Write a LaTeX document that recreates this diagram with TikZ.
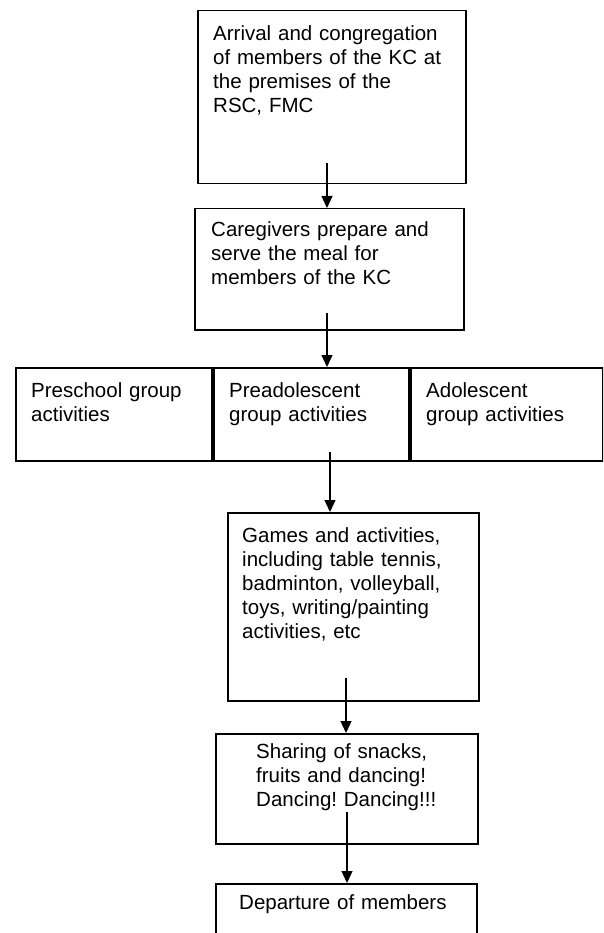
\documentclass[tikz,border=0pt]{standalone}
\usepackage{fontspec}
\setmainfont{Liberation Sans}
\usetikzlibrary{arrows.meta}
\frenchspacing
\begin{document}
\begin{tikzpicture}[x=1pt,y=-1pt]
\tikzset{
  flowbox/.style={draw=black, line width=1.5pt, inner sep=0pt, anchor=north west},
  boxtext/.style={anchor=north west, inner sep=0pt, text width=#1, align=left,
                  font=\fontsize{20.5}{24}\selectfont\frenchspacing},
  flowarrow/.style={line width=1.3pt, -{Triangle[length=12pt,width=11pt]}},
}
\useasboundingbox (0,0) rectangle (603,933);
\clip (0,0) rectangle (603,933);
\fill[white] (0,0) rectangle (603,933);

% boxes
\node[flowbox, minimum width=268pt, minimum height=173pt] (b1) at (197,10) {};
\node[flowbox, minimum width=269pt, minimum height=121pt] (b2) at (194,208) {};
\node[flowbox, minimum width=196pt, minimum height=93pt] (bA) at (15,367) {};
\node[flowbox, minimum width=195pt, minimum height=93pt] (bB) at (213,367) {};
\node[flowbox, minimum width=192pt, minimum height=93pt] (bC) at (410,367) {};
\node[flowbox, minimum width=251pt, minimum height=188pt] (b4) at (227,512) {};
\node[flowbox, minimum width=262pt, minimum height=110pt] (b5) at (215,733) {};
\node[flowbox, minimum width=261pt, minimum height=90pt] (b6) at (215,883) {};

% texts
\node[boxtext=250pt] (t1) at (213,25) {Arrival and congregation\\of members of the KC at\\the premises of the\\RSC, FMC};
\node[boxtext=250pt] (t2) at (211,221) {Caregivers prepare and\\serve the meal for\\members of the KC};
\node[boxtext=178pt] (tA) at (31,382) {Preschool group\\activities};
\node[boxtext=178pt] (tB) at (229,382) {Preadolescent\\group activities};
\node[boxtext=178pt] (tC) at (426,382) {Adolescent\\group activities};
\node[boxtext=232pt] (t4) at (242,527) {Games and activities,\\including table tennis,\\badminton, volleyball,\\toys, writing/painting\\activities, etc};
\node[boxtext=215pt] (t5) at (256,743) {Sharing of snacks,\\fruits and dancing!\\Dancing! Dancing!!!};
\node[boxtext=230pt] (t6) at (239,894) {Departure of members};

% connectors
\coordinate (s1) at (327,163);
\coordinate (s2) at (327,313);
\coordinate (s3) at (330,452);
\coordinate (s4) at (346,678);
\coordinate (s5) at (347,812);
\draw[flowarrow] (s1) -- (s1 |- b2.north);
\draw[flowarrow] (s2) -- (s2 |- bB.north);
\draw[flowarrow] (s3) -- (s3 |- b4.north);
\draw[flowarrow] (s4) -- (s4 |- b5.north);
\draw[flowarrow] (s5) -- (s5 |- b6.north);
\end{tikzpicture}
\end{document}
